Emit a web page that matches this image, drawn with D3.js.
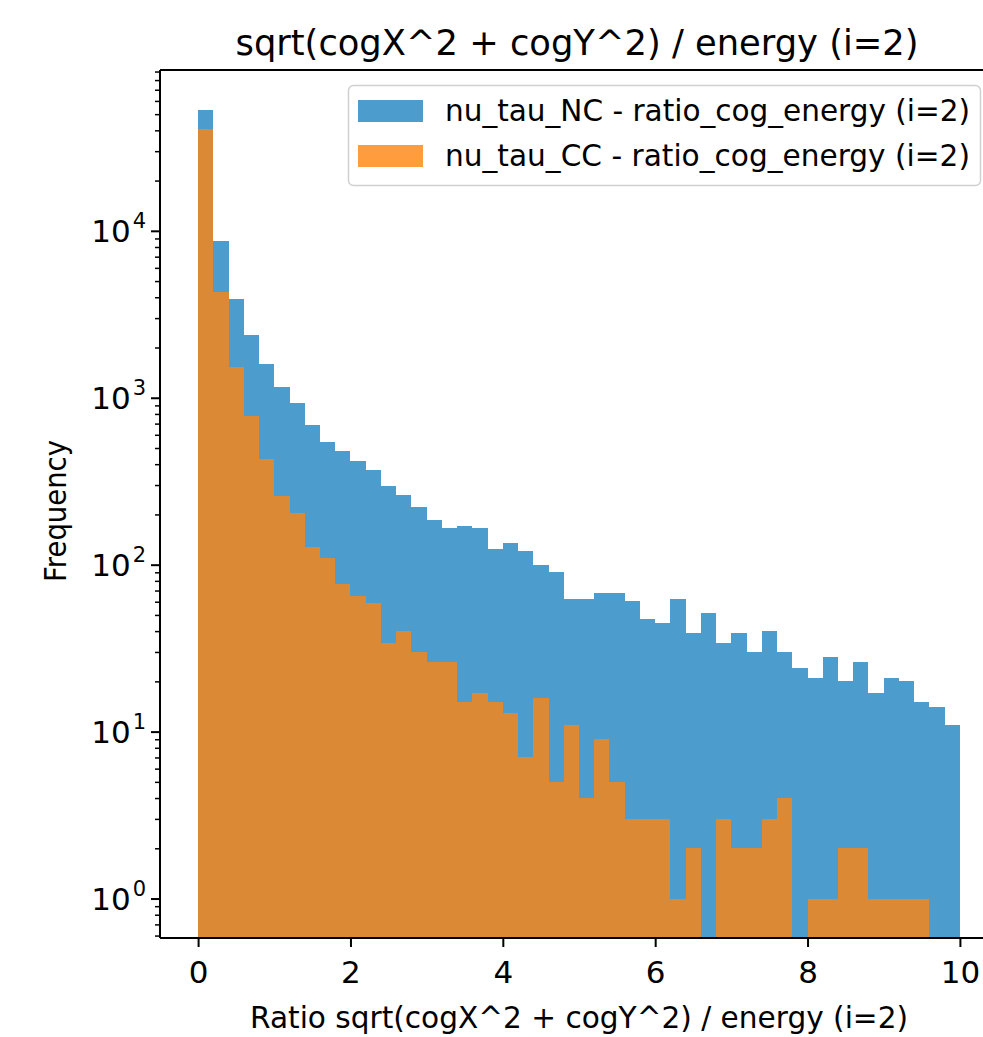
<!DOCTYPE html>
<html>
<head>
<meta charset="utf-8">
<script src="https://cdn.jsdelivr.net/npm/d3@7"></script>
<style>
  html, body { margin: 0; padding: 0; background: #fff; }
  svg { display: block; font-family: "DejaVu Sans", sans-serif; }
</style>
</head>
<body>
<svg id="chart" width="983" height="1037"></svg>
<script>
// ---- data ----
const binEdges = [0,0.2,0.4,0.6,0.8,1,1.2,1.4,1.6,1.8,2,2.2,2.4,2.6,2.8,3,3.2,3.4,3.6,3.8,4,4.2,4.4,4.6,4.8,5,5.2,5.4,5.6,5.8,6,6.2,6.4,6.6,6.8,7,7.2,7.4,7.6,7.8,8,8.2,8.4,8.6,8.8,9,9.2,9.4,9.6,9.8,10];
const ncCounts = [53300,8700,3920,2360,1600,1160,925,685,540,481,417,370,294,260,223,186,166,171,166,124,135,120,100,90,62,62,68,68,61,47,45,62,39,51,34,39,30,40,30,24,21,28,20,26,17,21,20,15,14,11];
const ccCounts = [40800,4300,1520,775,428,258,204,128,110,77,65,59,34,40,30,26,26,15,17,15,13,7,16,5,11,4,9,5,3,3,3,1,2,0,3,2,2,3,4,0,1,1,2,2,1,1,1,1,0,0];
const seriesNames = ["nu_tau_NC - ratio_cog_energy (i=2)", "nu_tau_CC - ratio_cog_energy (i=2)"];
const xTicks = [0,2,4,6,8,10];
const yMajorTicks = [1,10,100,1000,10000];
const yMajorExps = ["0","1","2","3","4"];
const titleText = "sqrt(cogX^2 + cogY^2) / energy (i=2)";
const xLabelText = "Ratio sqrt(cogX^2 + cogY^2) / energy (i=2)";
const yLabelText = "Frequency";

// ---- layout ----
const svg = d3.select("#chart");
const plot = {left: 160, top: 70, right: 998, bottom: 938};
const colors = ["#1f83c1", "#ff850e"];
const alpha = 0.8;
const FS = 29;
const TFS = 31;

const x = d3.scaleLinear().domain([-0.5, 10.5]).range([plot.left, plot.right]);
const y = d3.scaleLog().domain([Math.pow(10, -0.2364), Math.pow(10, 4.9634)]).range([plot.bottom, plot.top]);

svg.append("defs").append("clipPath").attr("id", "clip")
  .append("rect").attr("x", plot.left).attr("y", plot.top)
  .attr("width", plot.right - plot.left).attr("height", plot.bottom - plot.top);

const g = svg.append("g").attr("clip-path", "url(#clip)");

[ncCounts, ccCounts].forEach((counts, si) => {
  const bins = counts.map((c, i) => ({x0: binEdges[i], x1: binEdges[i + 1], c}));
  g.append("g").selectAll("rect")
    .data(bins.filter(d => d.c > 0))
    .join("rect")
    .attr("x", d => x(d.x0))
    .attr("width", d => x(d.x1) - x(d.x0))
    .attr("y", d => y(d.c))
    .attr("height", d => plot.bottom - y(d.c))
    .attr("fill", colors[si])
    .attr("fill-opacity", alpha)
    .attr("shape-rendering", "crispEdges");
});

// ---- axes ----
const axisColor = "#000";
const xAxis = svg.append("g").attr("transform", `translate(0,${plot.bottom})`)
  .call(d3.axisBottom(x).tickValues(xTicks).tickSize(9).tickPadding(10).tickFormat(d3.format("d")));
xAxis.select(".domain").remove();
xAxis.selectAll("line").attr("stroke", axisColor).attr("stroke-width", 2);
xAxis.selectAll("text").attr("font-size", TFS).attr("fill", "#000").attr("font-family", "DejaVu Sans")
  .attr("dy", null).attr("y", 45);

const yAxis = svg.append("g").attr("transform", `translate(${plot.left},0)`)
  .call(d3.axisLeft(y).tickValues(yMajorTicks).tickSize(9).tickFormat(""));
yAxis.select(".domain").remove();
yAxis.selectAll("line").attr("stroke", axisColor).attr("stroke-width", 2);

const minorTicks = [];
[-1,0,1,2,3,4].forEach(e => { for (let m = 2; m <= 9; m++) { const v = m * Math.pow(10, e); if (v >= y.domain()[0] && v <= y.domain()[1]) minorTicks.push(v); } });
const yMinor = svg.append("g").attr("transform", `translate(${plot.left},0)`)
  .call(d3.axisLeft(y).tickValues(minorTicks).tickSize(5).tickFormat(""));
yMinor.select(".domain").remove();
yMinor.selectAll("line").attr("stroke", axisColor).attr("stroke-width", 1.5);

// y major labels with superscripts
const yl = svg.append("g");
yMajorTicks.forEach((v, i) => {
  const t = yl.append("text").attr("x", 146).attr("y", y(v) + 11)
    .attr("text-anchor", "end").attr("font-size", TFS).attr("fill", "#000");
  t.append("tspan").text("10");
  t.append("tspan").attr("dx", 2).attr("dy", -14).attr("font-size", 21).text(yMajorExps[i]);
});

// spines
const spines = svg.append("g").attr("stroke", "#000").attr("stroke-width", 2).attr("fill", "none");
spines.append("line").attr("x1", plot.left).attr("x2", plot.left).attr("y1", plot.top).attr("y2", plot.bottom);
spines.append("line").attr("x1", plot.left).attr("x2", plot.right).attr("y1", plot.bottom).attr("y2", plot.bottom);
spines.append("line").attr("x1", plot.left).attr("x2", plot.right).attr("y1", plot.top).attr("y2", plot.top);
spines.append("line").attr("x1", plot.right).attr("x2", plot.right).attr("y1", plot.top).attr("y2", plot.bottom);

// ---- titles ----
svg.append("text").attr("x", 577).attr("y", 55).attr("text-anchor", "middle")
  .attr("font-size", 36).attr("textLength", 683).attr("lengthAdjust", "spacingAndGlyphs")
  .attr("fill", "#000").text(titleText);
svg.append("text").attr("x", 579).attr("y", 1028).attr("text-anchor", "middle")
  .attr("font-size", 30).attr("textLength", 658).attr("lengthAdjust", "spacingAndGlyphs")
  .attr("fill", "#000").text(xLabelText);
svg.append("text").attr("transform", "translate(66,511) rotate(-90)").attr("text-anchor", "middle")
  .attr("font-size", 30).attr("textLength", 142).attr("lengthAdjust", "spacingAndGlyphs")
  .attr("fill", "#000").text(yLabelText);

// ---- legend ----
const leg = svg.append("g");
leg.append("rect").attr("x", 348.5).attr("y", 85.5).attr("width", 632).attr("height", 100)
  .attr("rx", 5).attr("fill", "#fff").attr("fill-opacity", 0.8)
  .attr("stroke", "#d0d0d0").attr("stroke-width", 1.5);
seriesNames.forEach((name, i) => {
  const cy = 111 + i * 45;
  leg.append("rect").attr("x", 358).attr("y", cy - 11).attr("width", 65).attr("height", 22)
    .attr("fill", colors[i]).attr("fill-opacity", alpha);
  leg.append("text").attr("x", 445).attr("y", cy + 10).attr("font-size", 30)
    .attr("textLength", 525).attr("lengthAdjust", "spacingAndGlyphs")
    .attr("fill", "#000").text(name);
});
</script>
</body>
</html>
